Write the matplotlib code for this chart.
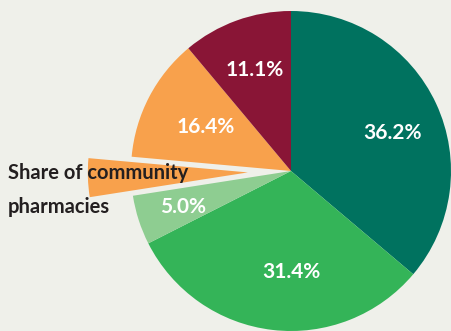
import numpy as np
import matplotlib
matplotlib.use("Agg")
import matplotlib.pyplot as plt

# доли сегментов по часовой стрелке от верха
shares = [36.2, 31.4, 5.0, 3.9, 12.5, 11.1]
labels = ["36.2%", "31.4%", "5.0%", "", "16.4%", "11.1%"]
colors = ["#00725F", "#34B458", "#8ECD91", "#F8A14C", "#F8A14C", "#891536"]
explode = [0, 0, 0, 0.27, 0, 0]
note = ["Share of community", "pharmacies"]

bg = "#EFF0EA"
fig = plt.figure(figsize=(4.51, 3.31), dpi=100, facecolor=bg)
ax = fig.add_axes([0, 0, 1, 1])
ax.set_facecolor(bg)

wedges, _ = ax.pie(shares, colors=colors, explode=explode, startangle=90,
                   counterclock=False, radius=1.0,
                   wedgeprops=dict(linewidth=0))

# радиус и поворот подписи относительно середины сегмента
dist = [0.675, 0.63, 0.71, 0, 0.6, 0.67]
shift = [-4.2, 6.8, 0.5, 0, 0, 0]
for w, lab, d, s in zip(wedges, labels, dist, shift):
    if not lab:
        continue
    a = np.deg2rad((w.theta1 + w.theta2) / 2 + s)
    ax.text(d * np.cos(a), d * np.sin(a), lab, ha="center", va="center",
            color="white", fontsize=15, fontweight="bold", family="Lato")

ax.text(-1.77, -0.01, note[0], ha="left", va="center", color="#231F20",
        fontsize=14.5, fontweight="bold", family="Lato")
ax.text(-1.77, -0.225, note[1], ha="left", va="center", color="#231F20",
        fontsize=14.5, fontweight="bold", family="Lato")

ax.set_xlim(-291 / 160, 1.0)
ax.set_ylim(-1.0, 171 / 160)
ax.set_aspect("auto")
ax.axis("off")

fig.savefig("out.png", dpi=100, facecolor=bg)
